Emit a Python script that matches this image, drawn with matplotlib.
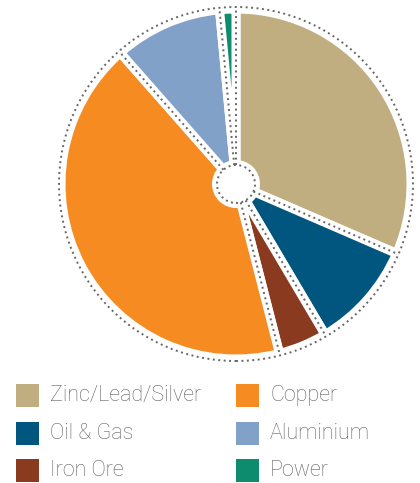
import numpy as np
import matplotlib
matplotlib.use('Agg')
import matplotlib.pyplot as plt
from matplotlib.patches import Circle, Rectangle

# 데이터 (시계방향, 12시 방향부터)
segments = ['Zinc/Lead/Silver', 'Oil & Gas', 'Iron Ore', 'Copper', 'Aluminium', 'Power']
shares = [31.5, 10.0, 4.5, 42.5, 10.0, 1.5]
colors = ['#C0AE80', '#00567F', '#8A3A1E', '#F68B21', '#82A1C9', '#0E8C6E']

W, H = 420, 483
fig = plt.figure(figsize=(W / 100, H / 100), dpi=100)
ax = fig.add_axes([0, 0, 1, 1])

cx, cy = 236, H - 184  # 파이 중심 (픽셀 좌표)
dot_col = '#666666'
dotted = (0, (1, 1.8))

wedges, _ = ax.pie(shares, colors=colors, startangle=90, counterclock=False,
                   center=(cx, cy), radius=175, frame=True,
                   wedgeprops=dict(edgecolor='white', linewidth=6.5))
ax.set_xlim(0, W)
ax.set_ylim(0, H)
ax.set_aspect('equal')
ax.axis('off')

# 가운데 흰 원
ax.add_patch(Circle((cx, cy), 24, facecolor='white', edgecolor='none', zorder=3))
ax.add_patch(Circle((cx, cy), 19, facecolor='none', edgecolor=dot_col,
                    linewidth=1.4, linestyle=dotted, zorder=4))
# 바깥 점선 원
ax.add_patch(Circle((cx, cy), 177, facecolor='none', edgecolor=dot_col,
                    linewidth=1.4, linestyle=dotted, zorder=4))

# 조각 경계 점선
for w in wedges:
    a = np.deg2rad(w.theta2)
    xs = [cx + 19 * np.cos(a), cx + 177 * np.cos(a)]
    ys = [cy + 19 * np.sin(a), cy + 177 * np.sin(a)]
    ax.plot(xs, ys, color=dot_col, linewidth=1.4, linestyle=dotted, zorder=4)

# 범례 (2열)
box_x = [16, 236]
text_x = [50, 270]
row_y = [395.5, 433.5, 470.5]
for i, (name, c) in enumerate(zip(segments, colors)):
    col, row = i // 3, i % 3
    yc = H - row_y[row]
    ax.add_patch(Rectangle((box_x[col], yc - 11.5), 23, 23, facecolor=c, edgecolor='none'))
    ax.text(text_x[col], yc, name, fontsize=15.5, fontfamily='Roboto', fontweight='light',
            color='#606163', va='center', ha='left')

fig.savefig('out.png', dpi=100)
